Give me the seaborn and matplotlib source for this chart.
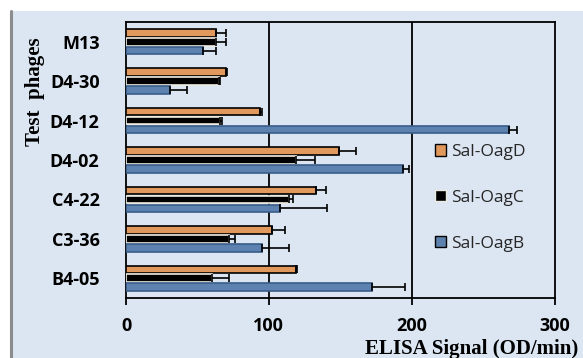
import matplotlib
matplotlib.use("Agg")
import matplotlib.pyplot as plt
from matplotlib.patches import Rectangle
from matplotlib.lines import Line2D
import numpy as np
import pandas as pd
import seaborn as sns

# ELISA signal per test phage against the three Salmonella O-antigens
phages = ["M13", "D4-30", "D4-12", "D4-02", "C4-22", "C3-36", "B4-05"]
series = ["Sal-OagD", "Sal-OagC", "Sal-OagB"]
oag_d = [63, 70, 94, 149, 133, 102, 119]
oag_c = [63, 65, 66, 119, 114, 72, 60]
oag_b = [54, 31, 268, 194, 108, 95, 172]
# upper error (standard deviation) for each bar
err_d = [7, 1, 1, 12, 7, 9, 1]
err_c = [7, 1, 1, 13, 3, 4, 12]
err_b = [9, 12, 6, 4, 33, 19, 23]

colors = {"Sal-OagD": "#F79646", "Sal-OagC": "#000000", "Sal-OagB": "#4F81BD"}
edges = {"Sal-OagD": "#000000", "Sal-OagC": "#EEECE1", "Sal-OagB": "#385D8A"}

df = pd.DataFrame({
    "phage": phages * 3,
    "series": [s for s in series for _ in phages],
    "signal": oag_d + oag_c + oag_b,
    "err": err_d + err_c + err_b,
})

sns.set_theme(style="white")
plt.rcParams["font.family"] = ["Open Sans", "DejaVu Sans"]

fig = plt.figure(figsize=(5.83, 3.58), dpi=100, facecolor="white")
# panel background with grey left rule
fig.patches.append(Rectangle((12 / 583, 0), 1, 1 - 11 / 358, transform=fig.transFigure,
                             facecolor="#DCE6F2", edgecolor="none", zorder=-10))
fig.lines.append(Line2D([11 / 583, 11 / 583], [0, 1 - 11 / 358], transform=fig.transFigure,
                        color="#8C8C8C", lw=2.2, zorder=-9))

ax = fig.add_axes([126 / 583, 1 - 298 / 358, 428.5 / 583, 276 / 358])
ax.set_facecolor("#DCE6F2")

sns.barplot(data=df, y="phage", x="signal", hue="series", order=phages,
            hue_order=series, palette=colors, orient="h", width=0.68,
            errorbar=None, ax=ax, legend=True, zorder=3)

# style each hue group and add one-sided error bars
for container, name in zip(ax.containers, series):
    sub = df[df["series"] == name].set_index("phage").loc[phages]
    ys = []
    for bar in container:
        bar.set_edgecolor(edges[name])
        bar.set_linewidth(1.2)
        yc = bar.get_y() + bar.get_height() / 2
        h = bar.get_height() * 0.86
        bar.set_y(yc - h / 2)
        bar.set_height(h)
        ys.append(yc)
    ax.errorbar(sub["signal"].values, ys,
                xerr=[np.zeros(len(phages)), sub["err"].values],
                fmt="none", ecolor="black", elinewidth=1.2, capsize=3.2,
                capthick=1.2, zorder=4)

ax.set_xlim(0, 300)
ax.set_ylim(6.5, -0.5)
ax.set_xticks([0, 100, 200, 300])
for xv in [100, 200]:
    ax.axvline(xv, color="black", lw=1.3, zorder=2)
for s in ax.spines.values():
    s.set_visible(True)
    s.set_color("black")
    s.set_linewidth(1.3)

ax.tick_params(axis="x", bottom=True, length=5, width=1.3, color="black",
               pad=9, labelsize=13)
ax.tick_params(axis="y", left=False, pad=13, labelsize=13)
for lab in ax.get_xticklabels() + ax.get_yticklabels():
    lab.set_fontweight("bold")
    lab.set_color("black")

ax.set_ylabel("")
ax.set_xlabel("")
fig.text(35 / 583, 1 - 92 / 358, "Test  phages", rotation=90, ha="center", va="center",
         fontsize=15, fontweight="bold", family="Liberation Serif", color="black")
fig.text(578 / 583, 1 - 349 / 358, "ELISA Signal (OD/min)", ha="right", va="center",
         fontsize=15, fontweight="bold", family="Liberation Serif", color="black")

leg = ax.legend(loc="upper left", bbox_to_anchor=(0.70, 0.59), frameon=False,
                fontsize=12.5, labelspacing=1.72, handlelength=0.65, handleheight=0.65,
                handletextpad=0.3, borderpad=0)
for h, name in zip(leg.legend_handles, series):
    h.set_edgecolor("black" if name != "Sal-OagC" else "#EEECE1")
    h.set_linewidth(1.0)

fig.savefig("out.png", dpi=100, facecolor="white")
